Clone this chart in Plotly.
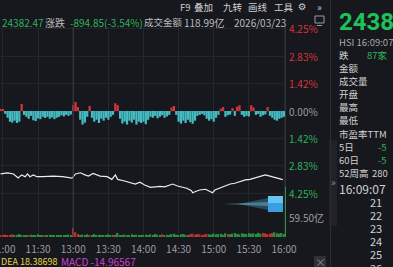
import plotly.graph_objects as go

# ---------------- data ----------------
time_ticks = [0, 30, 60, 90, 120, 150, 180, 210, 240]          # trading minutes from 11:00 (lunch break removed)
time_labels = ["11:00", "11:30", "13:00", "13:30", "14:00", "14:30", "15:00", "15:30", "16:00"]
pct_ticks = [4.25, 2.83, 1.42, 0.0, -1.42, -2.83, -4.25]
pct_labels = ["4.25%", "2.83%", "1.42%", "0.00%", "1.42%", "2.83%", "4.25%"]

# price line (% change vs previous close)
price_min = [-2, 4, 9, 13, 16, 19, 21, 23, 26, 29, 34, 43, 51, 59, 62, 66, 70, 73, 77, 83,
             89, 93, 96, 98, 103, 108, 113, 117, 121, 126, 130, 134, 138, 143, 145, 149, 153,
             157, 161, 162, 164, 168, 173, 175, 179, 181, 185, 190, 194, 198, 202, 207, 211,
             215, 220, 224, 228, 232, 239]
price_pct = [-3.25, -3.19, -3.25, -3.46, -3.30, -3.39, -3.25, -3.39, -3.30, -3.39, -3.39, -3.36,
             -3.39, -3.46, -3.25, -3.19, -3.30, -3.36, -3.22, -3.36, -3.39, -3.53, -3.30, -3.53,
             -3.60, -3.68, -3.77, -3.68, -3.82, -3.94, -3.92, -3.89, -3.92, -3.82, -3.77, -3.87,
             -3.94, -3.99, -4.11, -4.22, -4.17, -4.08, -4.04, -4.11, -4.22, -4.08, -3.99, -3.87,
             -3.77, -3.73, -3.65, -3.56, -3.53, -3.47, -3.36, -3.30, -3.36, -3.42, -3.54]

# histogram around 0.00% (every 2 minutes from -2 to 240)
hist_min = list(range(-2, 241, 2))
hist_val = [0.10, 0.08, -0.15, -0.35, -0.55, -0.60, -0.50, -0.62, -0.55, 0.36,
            -0.20, -0.30, -0.40, -0.25, -0.48, -0.52, -0.38, -0.42, -0.30, -0.36,
            -0.30, -0.40, -0.33, -0.42, -0.35, -0.30, -0.22, -0.28, -0.20, -0.25,
            -0.18, 0.30, 0.46, 0.20, -0.45, -0.70, -0.60, -0.30, 0.26, -0.35,
            -0.55, -0.45, -0.62, -0.40, -0.50, -0.35, -0.45, -0.30, -0.20, 0.40,
            0.30, -0.40, -0.65, -0.55, -0.70, -0.50, -0.60, -0.45, -0.70, -0.55,
            -0.62, -0.55, -0.68, -0.45, -0.30, -0.35, -0.25, -0.38, -0.30, -0.22,
            -0.35, -0.28, -0.20, 0.18, 0.26, -0.20, -0.55, -0.65, -0.50, -0.62,
            -0.45, -0.58, -0.66, -0.50, -0.25, -0.20, -0.15, -0.22, -0.40, -0.50,
            -0.42, -0.55, -0.35, -0.20, 0.12, 0.20, -0.30, -0.22, -0.18, 0.15,
            -0.25, 0.22, 0.30, -0.20, -0.30, -0.25, -0.28, 0.30, 0.18, -0.20,
            -0.15, -0.30, -0.22, -0.18, 0.20, -0.25, -0.35, -0.45, -0.50, -0.40,
            -0.35, -0.30]

# turnover bars (亿), same 2-minute grid
vol_val = [6, 5, 7, 6, 5, 8, 6, 5, 9, 6, 5, 4, 6, 7, 5, 6, 8, 5, 4, 6, 5, 7, 6, 5, 6, 4, 5, 6, 5, 7, 6,
           27, 14, 9,
           6, 7, 5, 8, 6, 5, 9, 6, 7, 5, 6, 5, 8, 6, 7, 5, 12, 6, 5, 7, 6, 5, 8, 6, 7, 6, 5,
           6, 7, 5, 8, 6, 9, 7, 6, 8, 5, 7, 6, 9, 10, 7, 6, 8, 9, 7, 6, 8, 10, 7, 9, 8, 6, 7, 9, 8, 7, 10,
           8, 9, 10, 7, 11, 9, 8, 10, 12, 9, 8, 11, 10, 9, 12, 10, 11, 9, 13, 10, 12, 11, 9, 10, 12, 14, 11, 10, 12, 9]
vol_dir = ("uuuuuuddd" + "dddudddddd" + "uddddddddddd" + "uuu" + "ddddudddddd" + "dddudddddddddddd"
           + "ddddddddud" + "dddddddddd" + "uuuuuuuu" + "ddd"
           + "dddddudddd" + "dddddddddd" + "uuuuu" + "ddddd")
vol_max_label = 59.50

side_rows = ["金额", "成交量", "开盘", "最高", "最低", "市盈率TTM"]
tick_rows = ["21", "22", "23", "24", "25", "26"]

# ---------------- styling ----------------
W, H = 393, 267
PL, PR, PT, PB = 0, 286, 27, 237
BG = "#16181d"
RED = "#d8333b"
GREEN = "#2fb35a"
GRAY = "#9a9ca2"
TXT = "#d0d0d0"
FONT = "Noto Sans CJK SC"


def px(x):
    return (x - PL) / (PR - PL)


def py(y):
    return (PB - y) / (PB - PT)


fig = go.Figure()

fig.add_trace(go.Bar(
    x=hist_min, y=hist_val, width=1.9,
    marker=dict(color=[RED if v > 0 else "#45bcc2" for v in hist_val], line=dict(width=0)),
    yaxis="y", hoverinfo="skip"))

fig.add_trace(go.Bar(
    x=hist_min[:len(vol_val)], y=vol_val, width=1.3,
    marker=dict(color=["#b8312f" if d == "u" else "#2a8a3e" for _, d in zip(vol_val, vol_dir)],
                line=dict(width=0)),
    yaxis="y2", hoverinfo="skip"))

fig.add_trace(go.Scatter(
    x=price_min, y=price_pct, mode="lines",
    line=dict(color="#ececec", width=1.2), yaxis="y", hoverinfo="skip"))

y_hi = 4.337
y_lo = -6.505

fig.update_layout(
    width=W, height=H,
    margin=dict(l=PL, r=W - PR, t=PT, b=H - PB, autoexpand=False),
    paper_bgcolor=BG, plot_bgcolor=BG,
    showlegend=False, barmode="overlay", hovermode=False,
    font=dict(family=FONT, size=10, color=TXT),
    xaxis=dict(range=[-2.5, 241.7], tickvals=time_ticks, ticktext=time_labels,
               showgrid=True, gridcolor="#24272e", gridwidth=1, zeroline=False,
               showline=False, ticks="", automargin=False, ticklabeloverflow="allow",
               ticklabelstandoff=5,
               tickfont=dict(family=FONT, size=10, color=GRAY)),
    yaxis=dict(range=[y_lo, y_hi], tickvals=pct_ticks, showticklabels=False,
               showgrid=True, gridcolor="#22252b", zeroline=False, automargin=False),
    yaxis2=dict(range=[0, 624.75], overlaying="y", visible=False, automargin=False),
)

shapes = []
shapes.append(dict(type="line", xref="x", yref="paper", x0=time_ticks[2], x1=time_ticks[2], y0=0, y1=1,
                   line=dict(color="#3a3d45", width=1)))
shapes.append(dict(type="line", xref="paper", yref="paper", x0=px(285.5), x1=px(285.5), y0=py(187), y1=1,
                   line=dict(color="#2f3238", width=1)))
shapes.append(dict(type="line", xref="paper", yref="paper", x0=px(285.5), x1=px(285.5), y0=0, y1=py(187),
                   line=dict(color="#2f8f45", width=1)))
shapes.append(dict(type="line", xref="paper", yref="paper", x0=px(330.5), x1=px(330.5), y0=py(267), y1=py(0),
                   line=dict(color="#2b2d33", width=1)))
shapes.append(dict(type="rect", xref="paper", yref="paper", x0=px(329), x1=px(337), y0=py(226), y1=py(140),
                   fillcolor="#202228", line=dict(width=0), layer="below"))
shapes.append(dict(type="path", xref="paper", yref="paper",
                   path=f"M {px(238)} {py(204)} L {px(268)} {py(198)} L {px(268)} {py(210)} Z",
                   fillcolor="rgba(80,190,235,0.30)", line=dict(width=0)))
shapes.append(dict(type="path", xref="paper", yref="paper",
                   path=f"M {px(222)} {py(204)} L {px(268)} {py(202)} L {px(268)} {py(206)} Z",
                   fillcolor="rgba(140,225,250,0.35)", line=dict(width=0)))
shapes.append(dict(type="rect", xref="paper", yref="paper", x0=px(268), x1=px(283), y0=py(212), y1=py(196),
                   fillcolor="#3a9fe0", line=dict(width=0)))
shapes.append(dict(type="rect", xref="paper", yref="paper", x0=px(268), x1=px(283), y0=py(203), y1=py(196),
                   fillcolor="#66c3f2", line=dict(width=0)))
shapes.append(dict(type="rect", xref="paper", yref="paper", x0=px(315), x1=px(324), y0=py(23), y1=py(16),
                   fillcolor="rgba(0,0,0,0)", line=dict(color="#9a9ca2", width=1)))
shapes.append(dict(type="line", xref="paper", yref="paper", x0=px(317), x1=px(322), y0=py(25.5), y1=py(25.5),
                   line=dict(color="#9a9ca2", width=1)))
shapes.append(dict(type="rect", xref="paper", yref="paper", x0=px(314), x1=px(326), y0=py(268), y1=py(256),
                   fillcolor="#2e3036", line=dict(width=0)))
fig.update_layout(shapes=shapes)

ann = []


def text(x, y, s, color=TXT, size=10, anchor="left", bold=False, family=FONT):
    ann.append(dict(xref="paper", yref="paper", x=px(x), y=py(y), text=(f"<b>{s}</b>" if bold else s),
                    showarrow=False, xanchor=anchor, yanchor="middle",
                    font=dict(family=family, size=size, color=color), borderpad=0))


for v, lab in zip(pct_ticks, pct_labels):
    c = RED if v > 0 else (GREEN if v < 0 else GRAY)
    ann.append(dict(xref="paper", yref="y", x=px(287), y=v, text=lab, showarrow=False,
                    xanchor="left", yanchor="middle", font=dict(family=FONT, size=10, color=c)))
ann.append(dict(xref="paper", yref="y2", x=px(287), y=vol_max_label, text=f"{vol_max_label:.2f}亿",
                showarrow=False, xanchor="left", yanchor="middle", font=dict(family=FONT, size=10, color=GRAY)))

# toolbar
text(179, 7, "F9", "#d0d0d0", size=9.5)
text(193, 7, "叠加", "#d0d0d0", size=9.5)
text(222, 7, "九转", "#d0d0d0", size=9.5)
text(247, 7, "画线", "#d0d0d0", size=9.5)
text(273, 7, "工具", "#d0d0d0", size=9.5)
text(297, 7, "⚙", "#d0d0d0", size=9.5, family="DejaVu Sans")
text(316, 7, "»", "#d0d0d0", size=10)

# header row
text(1, 22, "24382.47", GREEN)
text(44, 22, "涨跌", "#bdbdbd")
text(69, 22, "-894.85(-3.54%)", GREEN)
text(143, 22, "成交金额", "#bdbdbd", size=9.5)
text(183, 22, "118.99亿", "#bdbdbd")
text(233, 22, "2026/03/23", "#bdbdbd")

# bottom indicator row
text(0, 261, "DEA 18.38698", "#e6d54a", size=9)
text(60, 261, "MACD -14.96567", "#d13fd3")
text(320, 262, "×", "#8a8c92", size=11, anchor="center")

# side panel
text(338, 22, "24382.47", "#1ec15a", size=24, bold=True, family="Roboto")
text(338, 42, "HSI 16:09:07", "#a8a8a8", size=9.5)
text(338, 55, "跌", TXT, size=9.5)
text(366, 55, "87家", GREEN, size=9.5)
for i, s in enumerate(side_rows):
    text(338, 67.5 + i * 13.2, s, TXT, size=9.5)
text(338, 147, "5日", TXT, size=9.5)
text(377, 147, "-5", GREEN, size=9.5)
text(338, 160, "60日", TXT, size=9.5)
text(377, 160, "-5", GREEN, size=9.5)
text(338, 173, "52周高", TXT, size=9.5)
text(371, 173, "280", TXT, size=9.5)
text(338, 188, "16:09:07", TXT, size=12)
for i, s in enumerate(tick_rows):
    text(383, 202 + i * 13.1, s, TXT, size=11, anchor="right")
text(333, 181, "»", "#8a8c92", anchor="center")

fig.update_layout(annotations=ann)

fig.write_html("out.html")
